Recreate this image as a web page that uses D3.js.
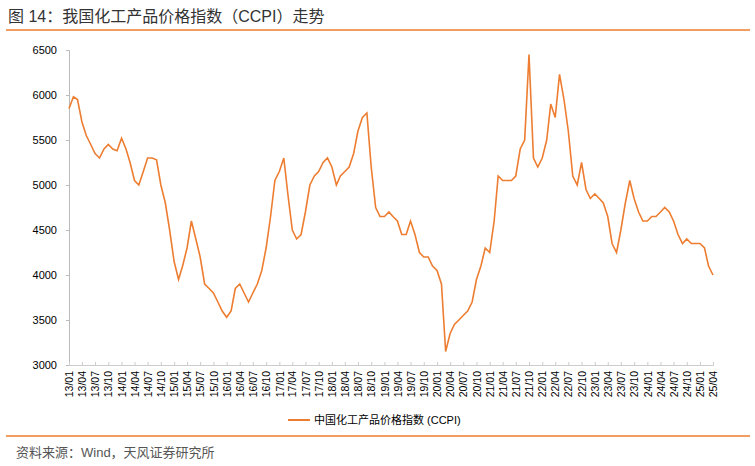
<!DOCTYPE html>
<html><head><meta charset="utf-8">
<script src="https://cdn.jsdelivr.net/npm/d3@7"></script>
<style>
body{margin:0;background:#fff;font-family:"Liberation Sans","Noto Sans CJK SC",sans-serif;}
</style></head>
<body><svg id="c" width="755" height="466"></svg>
<script>
// monthly CCPI, 2013/01 .. 2025/04
var startYear = 2013;
var values = [
  5850,5980,5950,5700,5550,5450,5350,5300,5400,5450,5400,5380,
  5520,5400,5250,5050,5000,5150,5300,5300,5280,5000,4800,4500,
  4150,3950,4100,4300,4600,4400,4200,3900,3850,3800,3700,3600,
  3530,3600,3850,3900,3800,3700,3800,3900,4050,4300,4650,5050,
  5150,5300,4900,4500,4400,4450,4700,5000,5100,5150,5250,5300,
  5200,5000,5100,5150,5200,5350,5600,5750,5800,5200,4750,4650,
  4650,4700,4650,4600,4450,4450,4600,4450,4250,4200,4200,4100,
  4050,3900,3150,3350,3450,3500,3550,3600,3700,3950,4100,4300,
  4250,4600,5100,5050,5050,5050,5100,5400,5500,6450,5300,5200,
  5300,5500,5900,5750,6230,5950,5600,5100,5000,5250,4950,4850,
  4900,4850,4800,4650,4350,4250,4500,4800,5050,4850,4700,4600,
  4600,4650,4650,4700,4750,4700,4600,4450,4350,4400,4350,4350,
  4350,4300,4100,4000
];
var yTicks = [3000,3500,4000,4500,5000,5500,6000,6500];
var title = "图 14：我国化工产品价格指数（CCPI）走势";
var seriesName = "中国化工产品价格指数 (CCPI)";
var source = "资料来源：Wind，天风证券研究所";

var orange = "#ed7d31";
var svg = d3.select("#c");

var data = values.map(function(v, i) { return {date: new Date(startYear, i, 1), v: v}; });
var tickDates = d3.range(0, values.length, 3).map(function(i) { return new Date(startYear, i, 1); });

var x = d3.scaleTime().domain([data[0].date, data[data.length - 1].date]).range([69, 713]);
var y = d3.scaleLinear().domain([3000, 6500]).range([365, 50]);

// title + rules
svg.append("text").attr("x", 8).attr("y", 22).attr("font-size", 16)
  .attr("fill", "#333").text(title);
svg.append("line").attr("x1", 6).attr("x2", 750).attr("y1", 30).attr("y2", 30)
  .attr("stroke", orange).attr("stroke-width", 1.5);
svg.append("line").attr("x1", 6).attr("x2", 750).attr("y1", 436).attr("y2", 436)
  .attr("stroke", orange).attr("stroke-width", 1.5);

// y axis
var ya = svg.append("g").attr("transform", "translate(69,0)")
  .call(d3.axisLeft(y).tickValues(yTicks).tickSize(3).tickFormat(d3.format("d")));
ya.selectAll("text").attr("font-size", 11).attr("fill", "#000").attr("dx", -6);
ya.selectAll("line,path").attr("stroke", "#bbb");

// x axis
var xa = svg.append("g").attr("transform", "translate(0,365)")
  .call(d3.axisBottom(x).tickValues(tickDates).tickSize(-3).tickFormat(d3.timeFormat("%y/%m")));
xa.select(".domain").attr("stroke", "#ccc");
xa.selectAll("line").attr("stroke", "#ccc");
xa.selectAll("text").attr("font-size", 10.5).attr("fill", "#000")
  .attr("transform", "rotate(-90)").attr("text-anchor", "end")
  .attr("x", -6).attr("y", 0).attr("dy", "0.35em");

// line
svg.append("path").datum(data)
  .attr("fill", "none").attr("stroke", orange).attr("stroke-width", 1.6)
  .attr("d", d3.line().x(function(d) { return x(d.date); }).y(function(d) { return y(d.v); }));

// legend
svg.append("line").attr("x1", 288).attr("x2", 310).attr("y1", 420).attr("y2", 420)
  .attr("stroke", orange).attr("stroke-width", 2);
svg.append("text").attr("x", 314).attr("y", 424).attr("font-size", 11).attr("fill", "#000").text(seriesName);

// source
svg.append("text").attr("x", 16).attr("y", 457).attr("font-size", 13).attr("fill", "#555").text(source);
</script></body></html>
